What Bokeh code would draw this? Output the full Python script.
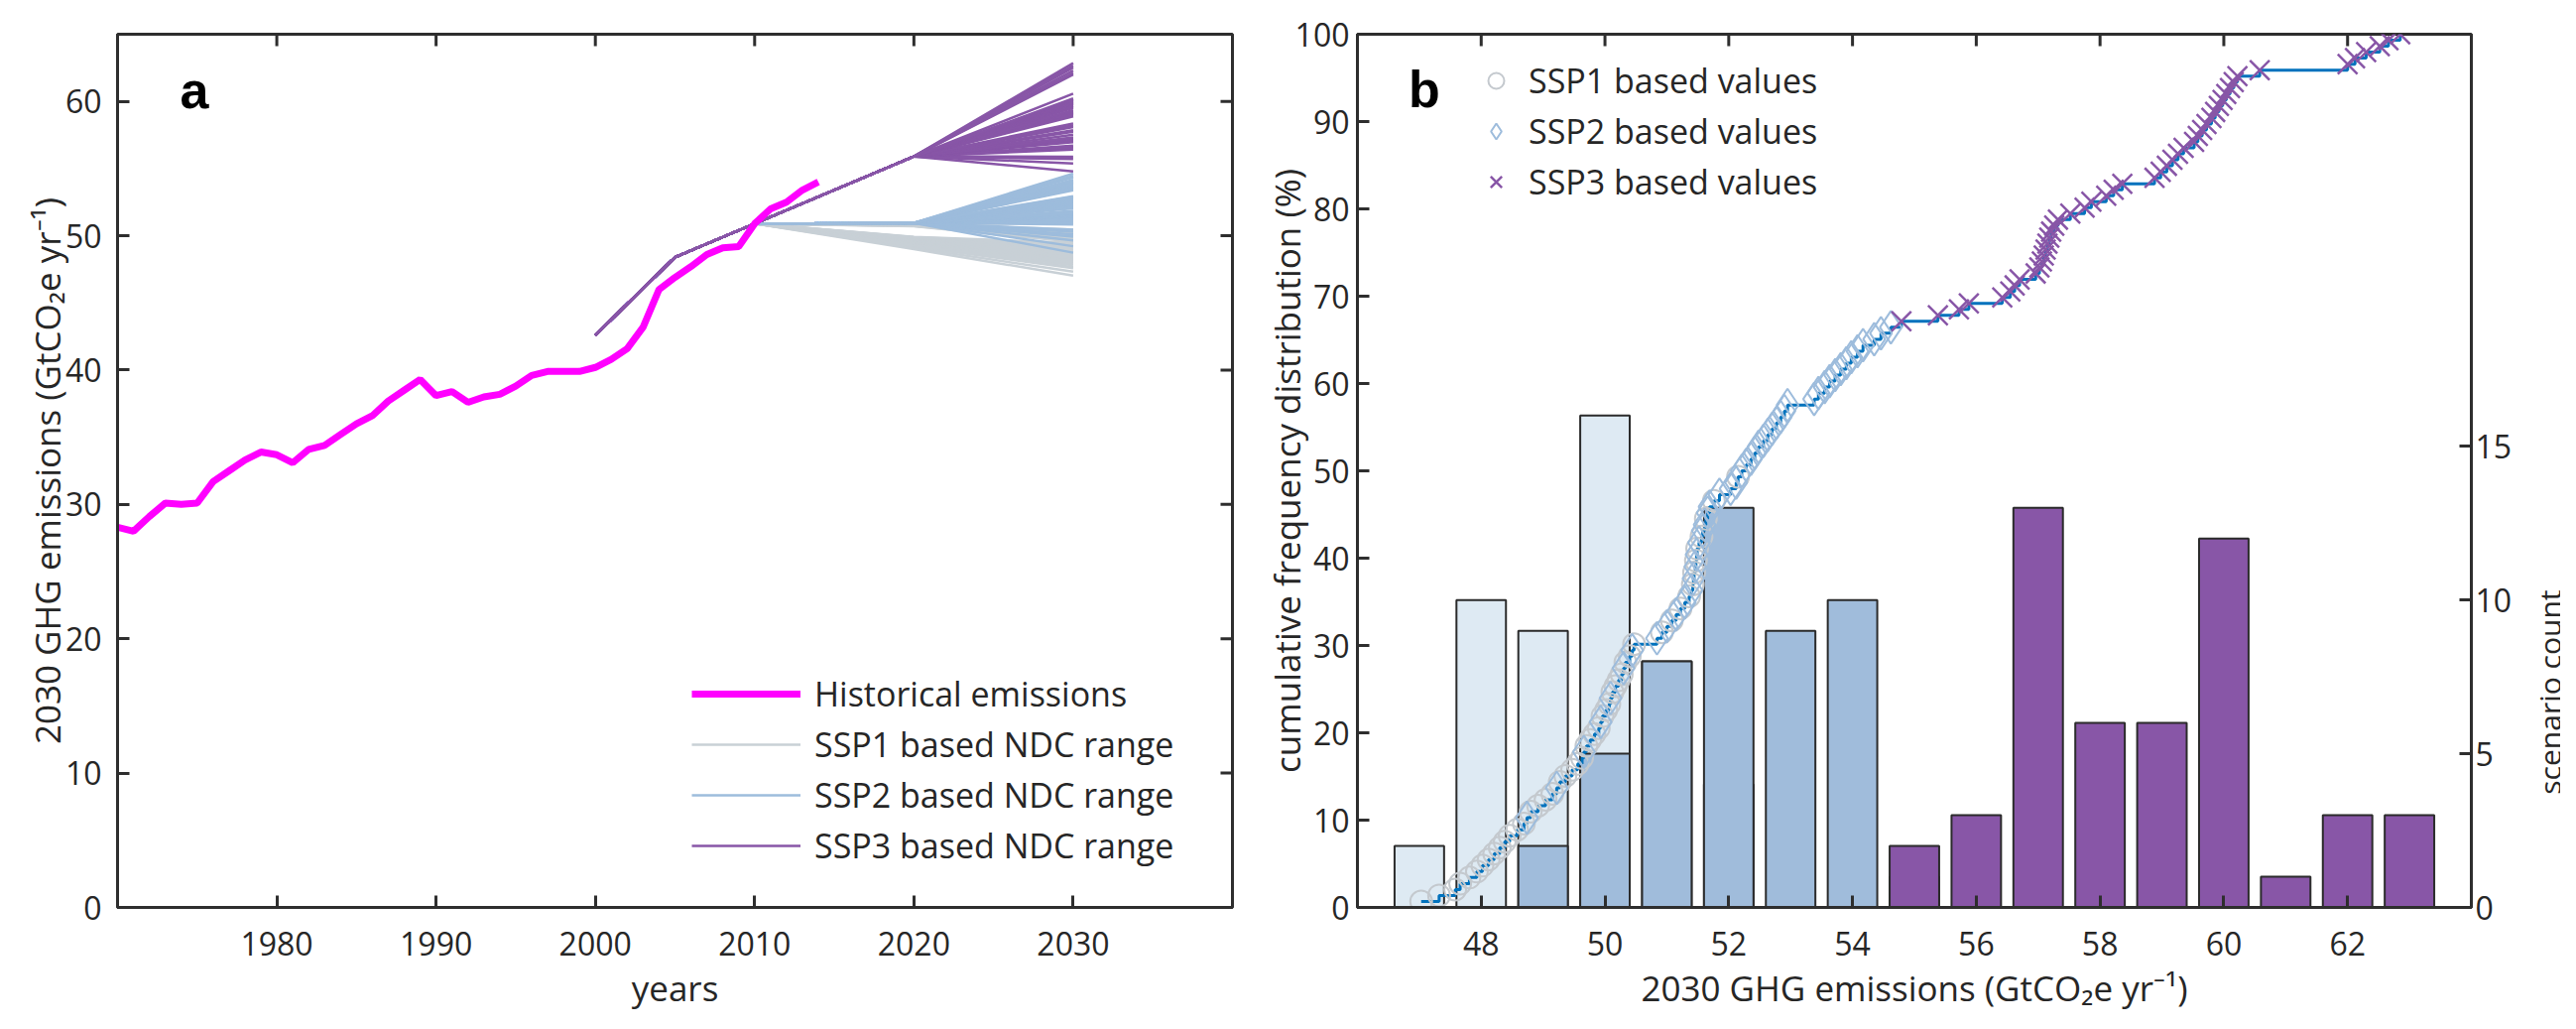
import numpy as np
from math import pi
from bokeh.plotting import figure
from bokeh.models import Range1d, LinearAxis, FixedTicker, Legend, LegendItem, Label
from bokeh.layouts import row
from bokeh.embed import file_html
from bokeh.resources import INLINE

# ---------------- data ----------------
hist_years = list(range(1970, 2015))
hist_emissions = [28.3, 28.0, 29.1, 30.1, 30.0, 30.1, 31.7, 32.5, 33.3, 33.9,
                  33.7, 33.1, 34.1, 34.4, 35.2, 36.0, 36.6, 37.7, 38.5, 39.3,
                  38.1, 38.4, 37.6, 38.0, 38.2, 38.8, 39.6, 39.9, 39.9, 39.9,
                  40.2, 40.8, 41.6, 43.2, 46.0, 46.9, 47.7, 48.6, 49.1, 49.2,
                  50.9, 52.0, 52.5, 53.4, 54.0]

ndc_years = [2000, 2005, 2010, 2020, 2030]
ndc_common = [42.6, 48.4, 50.9]          # shared path 2000, 2005, 2010

ssp1_2030 = [47.03, 47.32, 47.58, 47.66, 47.81, 47.93, 48.02, 48.12, 48.21, 48.30, 48.38, 48.46,
             48.58, 48.69, 48.80, 48.92, 49.04, 49.15, 49.27, 49.36, 49.47,
             49.56, 49.63, 49.70, 49.76, 49.83, 49.90, 49.96, 50.02, 50.07, 50.12, 50.17, 50.22,
             50.27, 50.33, 50.40, 50.47,
             50.92, 51.08, 51.22, 51.36, 51.42, 51.44, 51.47, 51.49,
             51.56, 51.63, 51.76, 52.15]
ssp1_2020 = [49.00, 49.10, 49.20, 49.25, 49.30, 49.40, 49.45, 49.50, 49.55, 49.60, 49.62, 49.66,
             49.70, 49.74, 49.78, 49.80, 49.83, 49.85, 49.88, 49.90, 49.92,
             50.70, 50.72, 50.74, 50.75, 50.76, 50.78, 50.80, 50.80, 50.82, 50.83, 50.84, 50.85,
             50.86, 50.87, 50.88, 50.88,
             50.88, 50.89, 50.90, 50.90, 50.91, 50.92, 50.92, 50.93,
             50.94, 50.95, 50.95, 50.96]

ssp2_2030 = [48.74, 49.22,
             49.66, 49.93, 50.09, 50.30, 50.44,
             50.84, 51.00, 51.15, 51.29, 51.40, 51.43, 51.46, 51.48,
             51.52, 51.58, 51.61, 51.66, 51.69, 51.85, 52.03, 52.12, 52.21, 52.28, 52.36, 52.42, 52.48,
             52.56, 52.63, 52.70, 52.77, 52.84, 52.90, 52.95, 53.38, 53.45,
             53.55, 53.63, 53.72, 53.81, 53.90, 53.98, 54.08, 54.17, 54.35, 54.46,
             54.62]
ssp2_2020 = 50.95

ssp3_2030 = [54.79, 55.38,
             55.72, 55.88, 56.42,
             56.55, 56.62, 56.70, 56.96, 57.02, 57.06, 57.09, 57.12, 57.15, 57.18, 57.21, 57.26, 57.32,
             57.52, 57.75, 57.86, 58.10, 58.22, 58.36,
             58.88, 58.98, 59.08, 59.17, 59.26, 59.35,
             59.52, 59.58, 59.65, 59.72, 59.80, 59.86, 59.92, 59.98, 60.04, 60.10, 60.16, 60.22,
             60.58,
             62.00, 62.12, 62.30,
             62.52, 62.66, 62.85]
ssp3_2020 = 55.9

hist_bin_edges = [46.5, 47.5, 48.5, 49.5, 50.5, 51.5, 52.5, 53.5, 54.5, 55.5,
                  56.5, 57.5, 58.5, 59.5, 60.5, 61.5, 62.5, 63.5]

year_ticks = [1980, 1990, 2000, 2010, 2020, 2030]
emis_ticks = [0, 10, 20, 30, 40, 50, 60]
b_x_ticks = [48, 50, 52, 54, 56, 58, 60, 62]
pct_ticks = [0, 10, 20, 30, 40, 50, 60, 70, 80, 90, 100]
count_ticks = [0, 5, 10, 15]
count_max = 28.4

# ---------------- style ----------------
FONT = "Open Sans"
AXC = "#2e2e2e"
TXT = "#262626"
C_HIST = "#ff00ff"
C_SSP1 = "#c8d0d6"
C_SSP2 = "#9dbcdc"
C_SSP3 = "#8856a7"
C_BAR1 = "#deeaf3"
C_BAR2 = "#a0bcdb"
C_BAR3 = "#8856a7"
C_CDF = "#0072bd"
C_MK1 = "#c4c9ce"
UNIT = "2030 GHG emissions (GtCO\u2082e yr\u207b\u00b9)"
H = 1021
BT, BB = 34, 97          # top / bottom borders shared by all three plots of the row


def style_axis(ax, ticks, standoff=10):
    ax.ticker = FixedTicker(ticks=ticks)
    ax.axis_line_color = AXC
    ax.axis_line_width = 3
    ax.major_tick_line_color = AXC
    ax.major_tick_line_width = 3
    ax.major_tick_in = 12
    ax.major_tick_out = 0
    ax.minor_tick_line_color = None
    ax.major_label_text_font = FONT
    ax.major_label_text_font_size = "32px"
    ax.major_label_text_color = TXT
    ax.major_label_standoff = standoff
    ax.axis_label_text_font = FONT
    ax.axis_label_text_font_size = "35px"
    ax.axis_label_text_font_style = "normal"
    ax.axis_label_text_color = TXT


def inner_ticks(p, xs, ys, angle):
    # tick marks on the unlabeled sides of the box: a dash centred on the frame edge,
    # the outer half is clipped by the frame
    p.scatter(xs, ys, marker="dash", angle=angle, size=24, line_color=AXC, line_width=3)


# ---------------- panel a ----------------
xr_a = Range1d(1970, 2040)
yr_a = Range1d(0, 65)
pa = figure(width=1262, height=H, x_range=xr_a, y_range=yr_a, title=None,
            output_backend="svg", toolbar_location=None,
            min_border_left=118, min_border_right=20, min_border_top=BT, min_border_bottom=BB,
            outline_line_color=AXC, outline_line_width=3,
            background_fill_color="white", border_fill_color="white")
pa.grid.visible = False
style_axis(pa.xaxis[0], year_ticks, standoff=24)
pa.xaxis[0].axis_label = "years"
pa.xaxis[0].axis_label_standoff = 6
style_axis(pa.yaxis[0], emis_ticks, standoff=16)
pa.yaxis[0].axis_label = UNIT
pa.yaxis[0].axis_label_standoff = -8

r_s1 = pa.multi_line(xs=[ndc_years] * len(ssp1_2030),
                     ys=[ndc_common + [a, b] for a, b in zip(ssp1_2020, ssp1_2030)],
                     line_color=C_SSP1, line_width=2.5)
r_s2 = pa.multi_line(xs=[ndc_years] * len(ssp2_2030),
                     ys=[ndc_common + [ssp2_2020, b] for b in ssp2_2030],
                     line_color=C_SSP2, line_width=2.5)
r_s3 = pa.multi_line(xs=[ndc_years] * len(ssp3_2030),
                     ys=[ndc_common + [ssp3_2020, b] for b in ssp3_2030],
                     line_color=C_SSP3, line_width=2.5)
r_h = pa.line(hist_years, hist_emissions, line_color=C_HIST, line_width=7)
inner_ticks(pa, year_ticks, [yr_a.end] * len(year_ticks), pi / 2)
inner_ticks(pa, [xr_a.end] * len(emis_ticks), emis_ticks, 0)

leg_a = Legend(items=[LegendItem(label="Historical emissions", renderers=[r_h]),
                      LegendItem(label="SSP1 based NDC range", renderers=[r_s1]),
                      LegendItem(label="SSP2 based NDC range", renderers=[r_s2]),
                      LegendItem(label="SSP3 based NDC range", renderers=[r_s3])],
               location=(579, 39), orientation="vertical", padding=0, margin=0, spacing=5,
               glyph_width=110, glyph_height=46, label_height=46, label_standoff=14,
               label_text_font=FONT, label_text_font_size="34px", label_text_color=TXT,
               border_line_color=None, background_fill_alpha=0)
pa.add_layout(leg_a)
pa.add_layout(Label(x=1974.83, y=60.83, text="a", text_font="Liberation Sans",
                    text_font_style="bold", text_font_size="52px", text_color="black",
                    text_align="center", text_baseline="alphabetic"))

# ---------------- panel b ----------------
xr_b = Range1d(46, 64)
yr_b = Range1d(0, 100)
pb = figure(width=1273, height=H, x_range=xr_b, y_range=yr_b, title=None,
            output_backend="svg", toolbar_location=None,
            min_border_left=106, min_border_right=41, min_border_top=BT, min_border_bottom=BB,
            outline_line_color=AXC, outline_line_width=3,
            background_fill_color="white", border_fill_color="white")
pb.extra_y_ranges = {"count": Range1d(0, count_max)}
pb.grid.visible = False
style_axis(pb.xaxis[0], b_x_ticks, standoff=24)
pb.xaxis[0].axis_label = UNIT
pb.xaxis[0].axis_label_standoff = 6
style_axis(pb.yaxis[0], pct_ticks, standoff=8)
pb.yaxis[0].axis_label = "cumulative frequency distribution (%)"
pb.yaxis[0].axis_label_standoff = -18
rb = LinearAxis(y_range_name="count")
style_axis(rb, count_ticks, standoff=4)
pb.add_layout(rb, "right")

edges = np.array(hist_bin_edges)
centers = (edges[:-1] + edges[1:]) / 2
for vals, col in ((ssp1_2030, C_BAR1), (ssp2_2030, C_BAR2), (ssp3_2030, C_BAR3)):
    counts, _ = np.histogram(vals, bins=edges)
    m = counts > 0
    pb.vbar(x=centers[m], top=counts[m], bottom=0, width=0.8, y_range_name="count",
            fill_color=col, line_color="#2b2b2b", line_width=2)

all_vals = np.array(ssp1_2030 + ssp2_2030 + ssp3_2030)
groups = np.array([1] * len(ssp1_2030) + [2] * len(ssp2_2030) + [3] * len(ssp3_2030))
order = np.argsort(all_vals, kind="stable")
xs_sorted = all_vals[order]
grp_sorted = groups[order]
N = len(xs_sorted)
cum_pct = 100.0 * np.arange(1, N + 1) / N

pb.step(xs_sorted, cum_pct, mode="after", line_color=C_CDF, line_width=3)
m1 = grp_sorted == 1
m2 = grp_sorted == 2
m3 = grp_sorted == 3
r_c1 = pb.scatter(xs_sorted[m1], cum_pct[m1], marker="circle", size=22, fill_color=None,
                  line_color=C_MK1, line_width=2)
r_c2 = pb.scatter(xs_sorted[m2], cum_pct[m2], marker="diamond", size=33, fill_color=None,
                  line_color=C_SSP2, line_width=2)
r_c3 = pb.scatter(xs_sorted[m3], cum_pct[m3], marker="x", size=28,
                  line_color=C_SSP3, line_width=2.5)
inner_ticks(pb, b_x_ticks, [yr_b.end] * len(b_x_ticks), pi / 2)

leg_b = Legend(items=[LegendItem(label="SSP1 based values", renderers=[r_c1]),
                      LegendItem(label="SSP2 based values", renderers=[r_c2]),
                      LegendItem(label="SSP3 based values", renderers=[r_c3])],
               location=(120, 708), orientation="vertical", padding=0, margin=0, spacing=5,
               glyph_width=40, glyph_height=46, label_height=46, label_standoff=13,
               label_text_font=FONT, label_text_font_size="34px", label_text_color=TXT,
               border_line_color=None, background_fill_alpha=0)
pb.add_layout(leg_b)
pb.add_layout(Label(x=47.08, y=93.64, text="b", text_font="Liberation Sans",
                    text_font_style="bold", text_font_size="52px", text_color="black",
                    text_align="center", text_baseline="alphabetic"))

# ---------------- right-hand axis title: narrow strip sharing panel b's count scale ----------------
WC = 46
pc = figure(width=WC, height=H, x_range=Range1d(0, WC), y_range=Range1d(0, count_max),
            title=None, output_backend="svg", toolbar_location=None,
            min_border_left=0, min_border_right=0, min_border_top=BT, min_border_bottom=BB,
            x_axis_location=None, y_axis_location=None, outline_line_color=None,
            background_fill_color="white", border_fill_color="white")
pc.grid.visible = False
pc.add_layout(Label(x=34.6, y=7.0, text="scenario count", angle=pi / 2,
                    text_font=FONT, text_font_size="30px", text_color=TXT,
                    text_align="center", text_baseline="alphabetic"))

layout = row(pa, pb, pc)
open("out.html", "w").write(file_html(layout, INLINE))
